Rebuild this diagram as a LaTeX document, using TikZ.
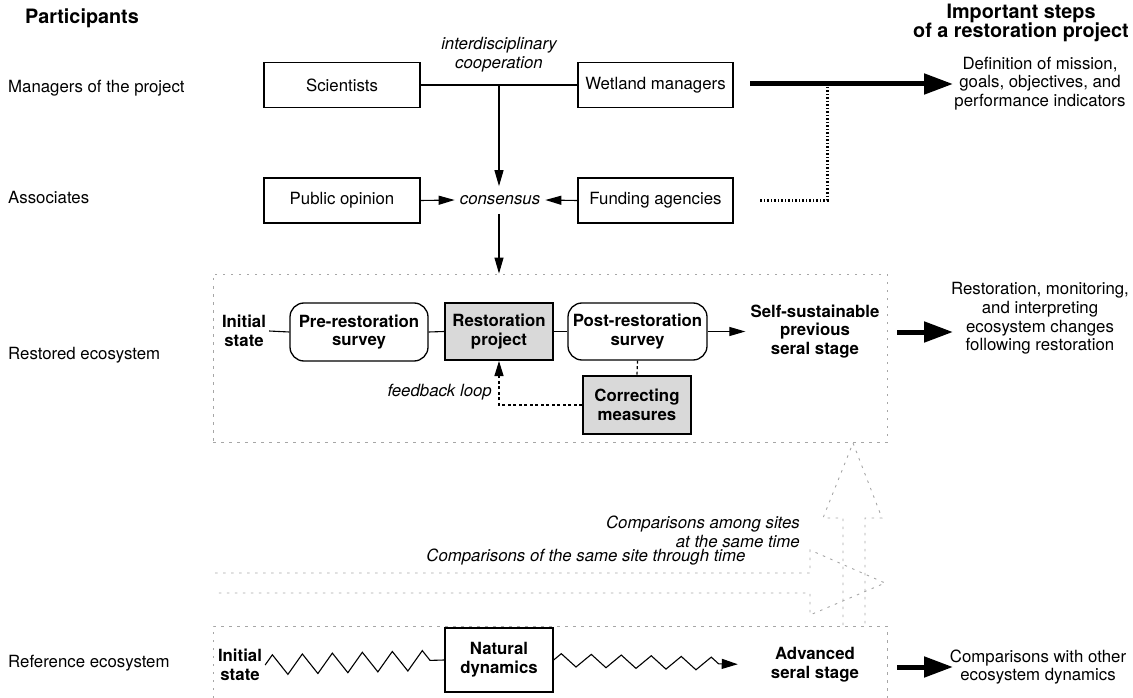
\documentclass[tikz,border=0pt]{standalone}
\usepackage{fontspec}
\setmainfont{TeX Gyre Heros}
\usetikzlibrary{arrows.meta,decorations.pathmorphing}
\begin{document}
\begin{tikzpicture}[x=1pt,y=-1pt,
  every node/.style={font=\fontsize{16.8}{18.6}\selectfont, inner sep=0pt, align=center},
  bold/.style={font=\fontsize{16.8}{18.6}\selectfont\bfseries},
  ital/.style={font=\fontsize{16.8}{18.6}\selectfont\itshape},
  title/.style={font=\fontsize{19.8}{19.5}\selectfont\bfseries},
  plainbox/.style={draw, line width=1.1pt},
  roundbox/.style={draw, line width=1.3pt, rounded corners=14pt},
  graybox/.style={draw, line width=2pt, fill=gray!30},
  conn/.style={line width=1.1pt},
  arr/.style={line width=1.1pt, -{Triangle[length=16pt,width=9pt]}},
  bigarr/.style={line width=5pt, -{Triangle[length=29pt,width=20pt]}},
  faint/.style={draw=gray!70, line width=0.9pt, dash pattern=on 2.5pt off 5.5pt},
  heavydot/.style={line width=3pt, dash pattern=on 1.5pt off 2pt},
  fbdot/.style={line width=1.2pt, dash pattern=on 3pt off 2.5pt}
]
\useasboundingbox (0,0) rectangle (1133,698);

% titles and participant labels
\node[title] (ptitle) at (82,18) {Participants};
\node[title] (stitle) at (1021,23) {Important steps\\of a restoration project};
\node[anchor=west] (lman) at (8,88) {Managers of the project};
\node[anchor=west] (lass) at (8,198) {Associates};
\node[anchor=west] (lres) at (8,355) {Restored ecosystem};
\node[anchor=west] (lref) at (8,663) {Reference ecosystem};

% managers and associates
\node[plainbox, minimum width=156pt, minimum height=45pt] (sci) at (342,85) {Scientists};
\node[plainbox, minimum width=155pt, minimum height=45pt] (wet) at (655.5,85) {Wetland managers};
\node[plainbox, minimum width=156pt, minimum height=45pt] (pub) at (342,200.5) {Public opinion};
\node[plainbox, minimum width=155pt, minimum height=45pt] (fund) at (655.5,200.5) {Funding agencies};
\node[ital] (coop) at (499,54.5) {interdisciplinary\\cooperation};
\node[ital, inner xsep=5pt, inner ysep=9pt] (cons) at (500,200) {consensus};
\coordinate (j1) at (499,85);
\draw[conn] (sci.east) -- (wet.west);
\draw[arr] (j1) -- (j1 |- cons.north);
\draw[arr] (pub.east) -- (cons.west);
\draw[arr] (fund.west) -- (cons.east);

% definition arrow
\coordinate (ta1) at (750,84);
\coordinate (ta2) at (953,84);
\node (defn) at (1040,83.5) {Definition of mission,\\goals, objectives, and\\performance indicators};
\draw[bigarr] (ta1) -- (ta2);
\coordinate (d1) at (827,87);
\coordinate (d2) at (760,200);
\draw[heavydot] (d1) |- (d2);

% restored ecosystem
\node[faint, minimum width=674pt, minimum height=168pt] (rbox) at (550,358) {};
\draw[arr] (cons.south -| j1) -- (j1 |- rbox.north);
\node[bold, inner xsep=3pt] (ini1) at (244,331) {Initial\\state};
\node[roundbox, bold, minimum width=138pt, minimum height=58pt] (pre) at (359,332) {Pre-restoration\\survey};
\node[graybox, bold, minimum width=108pt, minimum height=57pt] (rest) at (499,331.5) {Restoration\\project};
\node[roundbox, bold, minimum width=139pt, minimum height=57pt] (post) at (637.5,331.5) {Post-restoration\\survey};
\node[bold, inner xsep=5pt] (self) at (815,331.5) {Self-sustainable\\previous\\seral stage};
\node[graybox, bold, minimum width=108pt, minimum height=58pt] (corr) at (637,405) {Correcting\\measures};
\node[ital, anchor=east] (fb) at (492,392) {feedback loop};
\draw[conn] (ini1.east) -- (pre.west);
\draw[conn] (pre.east) -- (rest.west);
\draw[conn] (rest.east) -- (post.west);
\draw[arr] (post.east) -- (self.west);
\draw[fbdot] (post.south) -- (corr.north);
\draw[fbdot, -{Triangle[length=15pt,width=9pt]}] (corr.west) -| (rest.south);

\coordinate (ra1) at (897,332);
\coordinate (ra2) at (953,332);
\draw[bigarr] (ra1) -- (ra2);
\node (rtext) at (1040,318.5) {Restoration, monitoring,\\and interpreting\\ecosystem changes\\following restoration};

% comparison arrows
\draw[faint] (843,625) -- (843,518) -- (823,518) -- (853,443) -- (882,518) -- (865,518) -- (865,625);
\draw[faint] (215,573) -- (810,573) -- (810,550) -- (885,583) -- (810,615) -- (810,593) -- (215,593);
\draw[faint] (213,698) -- (213,626) -- (887,626) -- (887,698);
\node[ital, align=right, anchor=east] (camong) at (800,532) {Comparisons among sites\\at the same time};
\node[ital] (csame) at (586,557) {Comparisons of the same site through time};

% reference ecosystem
\node[bold, inner xsep=3pt] (ini2) at (240,665) {Initial\\state};
\node[plainbox, line width=1.3pt, bold, minimum width=108pt, minimum height=64pt] (nat) at (499,660) {Natural\\dynamics};
\node[bold] (adv) at (815,665) {Advanced\\seral stage};
\draw[conn, decorate, decoration={zigzag, segment length=30pt, amplitude=10pt}] (ini2.east) -- (nat.west);
\draw[conn, -{Triangle[length=16pt,width=10pt]}, shorten >=33pt, decorate, decoration={zigzag, segment length=30pt, amplitude=6.5pt, post length=50pt}] (nat.east) -- (adv.west);

\coordinate (ba1) at (897,667);
\coordinate (ba2) at (953,667);
\draw[bigarr] (ba1) -- (ba2);
\node (btext) at (1038,667) {Comparisons with other\\ecosystem dynamics};
\end{tikzpicture}
\end{document}
